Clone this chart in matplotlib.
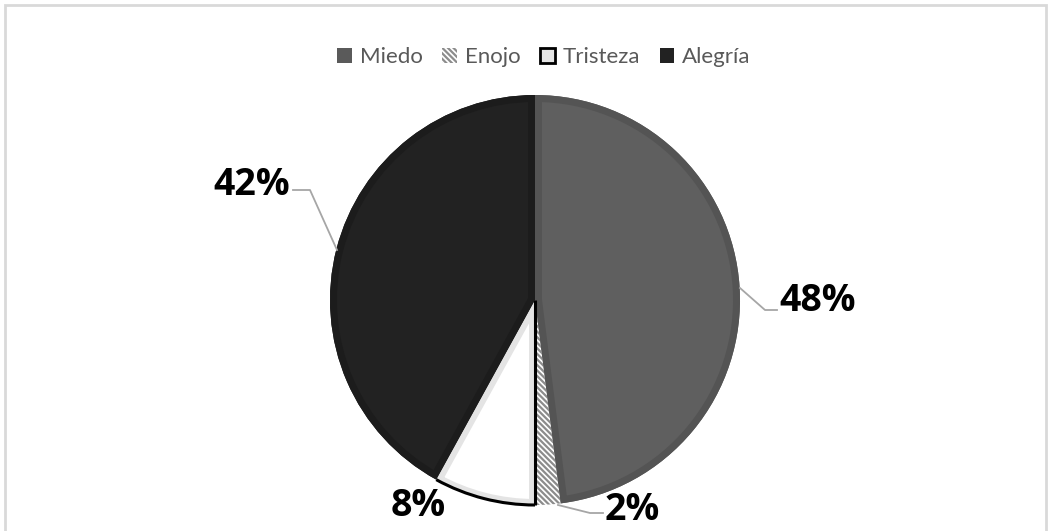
import matplotlib
matplotlib.use("Agg")
import matplotlib.pyplot as plt
from matplotlib.patches import Wedge, Patch, Rectangle, Arc
import numpy as np

plt.rcParams['hatch.linewidth'] = 1.6

labels = ["Miedo", "Enojo", "Tristeza", "Alegría"]
values = [48, 2, 8, 42]
pct_labels = ["48%", "2%", "8%", "42%"]

W, H = 1052, 531
fig = plt.figure(figsize=(W / 100, H / 100), dpi=100)
ax = fig.add_axes([0, 0, 1, 1])

cx, cy, R = 535, H - 300, 205

face = ["#5f5f5f", "white", "white", "#222222"]
edge = ["#545454", "#8c8c8c", "#e4e4e4", "#1c1c1c"]
lw = [14, 0, 12, 14]
hatch = [None, "\\\\\\\\\\\\", None, None]

wedges, _ = ax.pie(values, startangle=90, counterclock=False,
                   center=(cx, cy), radius=R,
                   wedgeprops=dict(linewidth=0))
for i, w in enumerate(wedges):
    w.set_facecolor(face[i])
    if hatch[i]:
        w.set_hatch(hatch[i])
        w.set_edgecolor(edge[i])
        w.set_linewidth(0)
    else:
        w.set_edgecolor("none")
        clip = Wedge((cx, cy), R, w.theta1, w.theta2)
        clip.set_transform(ax.transData)
        b = Wedge((cx, cy), R, w.theta1, w.theta2, facecolor="none",
                  edgecolor=edge[i], linewidth=lw[i] * 0.72, joinstyle="miter")
        ax.add_patch(b)
        b.set_clip_path(clip)

# Tristeza black outline (arc and right edge)
tw = wedges[2]
ax.add_patch(Arc((cx, cy), 2 * R, 2 * R, theta1=tw.theta1, theta2=tw.theta2,
                 color="black", linewidth=2.2))
ax.plot([cx, cx], [cy, cy - R], color="black", linewidth=2.2,
        solid_capstyle="butt")

# labels with leader lines (figure pixel coords, y from top)
lab_font = dict(fontsize=27, fontweight="bold", family="Open Sans", color="black")
lc = "#a6a6a6"
def L(pts):
    xs = [p[0] for p in pts]
    ys = [H - p[1] for p in pts]
    ax.plot(xs, ys, color=lc, linewidth=1.3)

L([(740, 288), (765, 310), (777, 310)])
ax.text(779, H - 301, pct_labels[0], ha="left", va="center", **lab_font)
L([(558, 505), (590, 513), (603, 513)])
ax.text(605, H - 510, pct_labels[1], ha="left", va="center", **lab_font)
ax.text(418, H - 506, pct_labels[2], ha="center", va="center", **lab_font)
L([(337, 250), (310, 190), (293, 190)])
ax.text(290, H - 185, pct_labels[3], ha="right", va="center", **lab_font)

# legend
handles = [
    Patch(facecolor="#5a5a5a", edgecolor="none", label=labels[0]),
    Patch(facecolor="white", edgecolor="#8c8c8c", hatch="\\\\\\\\\\\\", linewidth=0, label=labels[1]),
    Patch(facecolor="#e4e4e4", edgecolor="black", linewidth=2, label=labels[2]),
    Patch(facecolor="#222222", edgecolor="none", label=labels[3]),
]
leg = ax.legend(handles=handles, loc="center", bbox_to_anchor=(544 / W, 1 - 57 / H),
                ncol=4, frameon=False, handlelength=0.65, handleheight=0.65,
                handletextpad=0.35, columnspacing=0.9,
                prop=dict(family="Lato", size=16))
for t in leg.get_texts():
    t.set_color("#595959")

# outer border
ax.add_patch(Rectangle((5, -20), W - 11, H - 5 + 20, fill=False,
                       edgecolor="#d9d9d9", linewidth=2))

ax.set_xlim(0, W)
ax.set_ylim(0, H)
ax.set_aspect("equal")
ax.axis("off")

fig.savefig("out.png", dpi=100)
